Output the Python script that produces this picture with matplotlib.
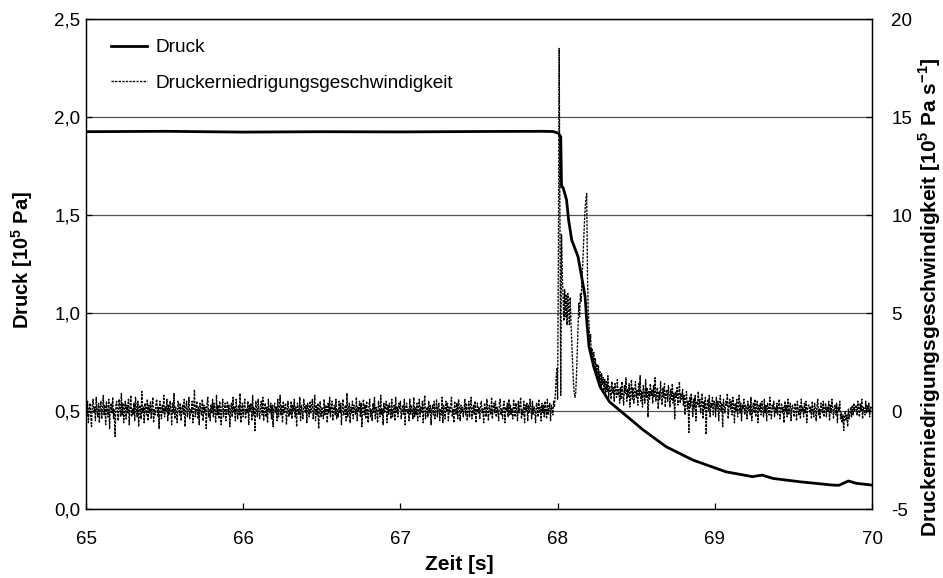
import matplotlib
matplotlib.use("Agg")
import matplotlib.pyplot as plt
import numpy as np
from matplotlib.ticker import FuncFormatter

plt.rcParams["font.family"] = ["Liberation Sans", "DejaVu Sans"]
plt.rcParams["mathtext.fontset"] = "custom"
plt.rcParams["mathtext.rm"] = "Liberation Sans:bold"
plt.rcParams["mathtext.bf"] = "Liberation Sans:bold"

# Druck [10^5 Pa] ueber der Zeit [s]
t_druck = [65.0, 65.5, 66.0, 66.5, 67.0, 67.5, 67.9, 67.97, 68.004, 68.02,
           68.025, 68.035, 68.057, 68.07, 68.09, 68.11, 68.13, 68.153, 68.175,
           68.185, 68.2, 68.23, 68.27, 68.33, 68.4, 68.43, 68.545, 68.69,
           68.86, 69.07, 69.24, 69.3, 69.37, 69.54, 69.75, 69.79, 69.85,
           69.9, 70.0]
druck = [1.925, 1.927, 1.923, 1.925, 1.924, 1.926, 1.927, 1.926, 1.918, 1.90,
         1.645, 1.64, 1.577, 1.474, 1.372, 1.33, 1.287, 1.185, 1.083,
         0.964, 0.828, 0.726, 0.624, 0.547, 0.50, 0.48, 0.403, 0.318,
         0.25, 0.19, 0.165, 0.173, 0.156, 0.139, 0.122, 0.121, 0.143,
         0.131, 0.122]

# Druckerniedrigungsgeschwindigkeit [10^5 Pa/s], Abtastung alle 5 ms ab 65 s
rate_vorher = [
    0.2, -0.3, 0.5, -0.6, 0.1, 0.4, -0.2, -0.8, 0.3, 0.6, -0.1, 0.2, -0.5, 0.7, 0.0, -0.3, 0.4, -0.6, 0.2, 0.5,
    -0.4, 0.1, 0.8, -0.2, 0.3, -0.7, 0.5, 0.0, -0.3, 0.6, -0.9, 0.2, 0.4, -0.1, 0.7, -0.4, 0.1, -1.3, 0.3, 0.5,
    0.0, -0.5, 0.6, 0.2, -0.3, 0.9, -0.2, 0.4, -0.6, 0.1, 0.5, -0.4, 0.3, -0.1, 0.6, -0.7, 0.2, 0.8, -0.3, 0.1,
    -0.2, 0.4, -0.5, 0.7, 0.1, -0.3, 0.5, -0.8, 0.2, 0.3, -0.4, 1.0, -0.1, 0.2, -0.6, 0.4, 0.0, -0.2, 0.6, -0.5,
    0.3, -0.1, 0.5, -0.4, 0.2, 0.7, -0.6, 0.1, -0.2, 0.4, 0.6, -0.3, 0.2, -0.9, 0.5, 0.1, -0.4, 0.3, -0.1, 0.8,
    -0.3, 0.2, 0.0, 0.6, -0.5, 0.3, -0.2, 0.5, 0.1, -0.7, 0.4, -0.1, 0.9, -0.4, 0.2, 0.0, -0.6, 0.5, 0.3, -0.2,
    0.4, -0.5, 0.1, 0.3, -0.2, 0.6, -0.8, 0.2, 0.5, -0.3, 0.0, 0.7, -0.4, 0.1, -0.1, 0.5, -0.6, 0.3, 1.1, -0.3,
    0.1, 0.5, -0.4, 0.2, -0.7, 0.4, 0.0, -0.2, 0.6, -0.5, 0.3, -0.1, 0.2, -0.9, 0.4, 0.7, -0.3, 0.1, -0.5, 0.3,
    -0.1, 0.6, -0.3, 0.4, 0.0, -0.6, 0.8, -0.2, 0.3, -0.4, 0.5, 0.1, -0.7, 0.2, 0.6, -0.3, 0.0, 0.4, -0.5, 0.2,
    0.5, -0.2, 0.3, -0.8, 0.1, 0.4, -0.3, 0.7, -0.1, 0.2, -0.5, 0.6, 0.0, -0.4, 0.3, -0.2, 0.9, -0.6, 0.1, 0.4,
    -0.3, 0.2, 0.6, -0.4, 0.1, -0.1, 0.5, -0.7, 0.3, 0.0, 0.4, -0.5, 0.8, -0.2, 0.2, -1.0, 0.5, 0.1, -0.3, 0.6,
    0.0, -0.4, 0.3, 0.5, -0.2, 0.7, -0.5, 0.1, 0.4, -0.3, 0.2, -0.6, 0.6, 0.0, -0.1, 0.4, -0.4, 0.3, -0.8, 0.2,
    0.4, -0.1, 0.2, -0.5, 0.6, -0.3, 0.1, 0.8, -0.2, 0.3, -0.6, 0.5, -0.1, 0.2, 0.4, -0.7, 0.0, 0.5, -0.3, 0.1,
    -0.2, 0.5, -0.4, 0.3, 0.0, 0.6, -0.3, 0.2, -0.8, 0.4, 0.1, -0.2, 0.7, -0.5, 0.3, 0.0, -0.4, 0.6, 0.2, -0.1,
    0.3, -0.6, 0.4, 0.1, -0.3, 0.5, -0.1, 0.2, 0.6, -0.4, 0.0, 0.8, -0.5, 0.3, -0.2, 0.4, -0.9, 0.1, 0.5, -0.3,
    0.2, 0.0, -0.4, 0.6, -0.2, 0.3, 0.1, -0.6, 0.4, -0.1, 0.7, -0.3, 0.2, 0.5, -0.5, 0.1, 0.3, -0.2, 0.6, -0.4,
    0.1, -0.3, 0.5, -0.1, 0.4, -0.7, 0.2, 0.6, -0.2, 0.0, 0.3, -0.5, 0.9, -0.3, 0.1, 0.4, -0.6, 0.2, -0.1, 0.5,
    -0.4, 0.3, 0.1, -0.2, 0.7, -0.5, 0.2, 0.0, 0.5, -0.3, 0.4, -0.8, 0.1, 0.6, -0.2, 0.3, -0.4, 0.5, 0.0, -0.6,
    0.3, 0.6, -0.3, 0.1, -0.5, 0.4, -0.1, 0.7, -0.4, 0.2, 0.0, -0.6, 0.5, 0.2, -0.3, 0.8, -0.2, 0.1, -0.7, 0.4,
    -0.1, 0.2, 0.5, -0.6, 0.3, -0.2, 0.4, 0.1, -0.4, 0.6, -0.3, 0.0, 0.3, -0.5, 0.7, -0.1, 0.2, -0.3, 0.4, 0.1,
    0.5, -0.4, 0.0, 0.3, -0.2, 0.6, -0.7, 0.2, 0.4, -0.1, 0.1, -0.5, 0.6, -0.2, 0.3, 0.0, -0.4, 0.7, -0.3, 0.2,
    -0.2, 0.4, -0.5, 0.1, 0.6, -0.3, 0.2, -0.1, 0.5, -0.6, 0.3, 0.8, -0.4, 0.0, 0.2, -0.3, 0.5, -0.1, 0.3, -0.7,
    0.1, 0.3, -0.2, 0.5, -0.4, 0.0, 0.6, -0.3, 0.2, 0.4, -0.5, 0.1, -0.2, 0.7, -0.6, 0.3, 0.1, -0.4, 0.5, 0.0,
    0.4, -0.5, 0.2, -0.1, 0.3, 0.7, -0.3, 0.1, -0.6, 0.5, 0.0, -0.2, 0.4, -0.4, 0.6, 0.2, -0.5, 0.3, -0.1, 0.2,
    -0.3, 0.1, 0.6, -0.2, 0.4, -0.5, 0.0, 0.5, -0.3, 0.2, 0.7, -0.4, 0.1, 0.3, -0.2, 0.5, -0.6, 0.0, 0.4, -0.1,
    0.2, -0.4, 0.3, 0.5, -0.1, 0.1, -0.6, 0.4, 0.2, -0.3, 0.6, 0.0, -0.5, 0.3, 0.1, -0.2, 0.7, -0.4, 0.2, 0.4,
    -0.1, 0.5, -0.3, 0.2, 0.0, -0.5, 0.4, 0.6, -0.2, 0.1, -0.4, 0.3, 0.5, -0.6, 0.2, 0.0, 0.4, -0.3, 0.6, -0.2,
    0.3, -0.2, 0.1, -0.4, 0.6, 0.2, -0.3, 0.4, 0.0, -0.5, 0.5, -0.1, 0.3, 0.7, -0.4, 0.1, -0.2, 0.5, -0.6, 0.3,
    0.0, 0.4, -0.5, 0.3, -0.1, 0.6, 0.1, -0.4, 0.5, -0.2, 0.2, 0.0, -0.6, 0.4, 0.3, -0.3, 0.6, -0.1, 0.2, -0.5,
    0.4, -0.1, 0.3, -0.3, 0.5, 0.0, -0.4, 0.6, -0.2, 0.2, 0.4, -0.5, 0.3, 0.1, -0.2, 0.5, 0.2, 0.8, 1.5, 2.2,
]
rate_ereignis = [
    0.6, 8.0, 18.5, 10.0, 0.8, 9.0, 7.0, 5.8, 4.6, 6.2, 4.8, 5.9, 4.4, 6.0, 5.2, 4.4, 5.8, 4.5, 3.6, 2.5,
    1.6, 1.0, 0.7, 0.9, 1.8, 3.0, 4.2, 5.5, 4.8, 6.0, 5.6, 6.8, 7.5, 8.5, 9.5, 10.3, 10.8, 11.1, 7.0, 5.0,
    4.4, 3.5, 3.9, 2.8, 3.2, 2.5, 3.0, 2.1, 2.7, 1.9, 2.4, 1.6, 2.3, 1.5, 2.0, 1.2, 1.9, 1.3, 1.7, 1.1,
    1.6, 0.9, 1.5, 1.0, 1.8, 0.7, 1.3, 1.1, 0.6, 1.5, 0.9, 1.2, 0.5, 1.4, 1.0, 0.7, 1.6, 0.8, 1.1, 0.4,
]
rate_nachher = [
    1.2, 0.6, 1.5, 0.8, 0.3, 1.3, 0.9, 1.7, 0.5, 1.1, 0.7, 1.4, 0.2, 1.0, 1.6, 0.6, 1.2, 0.4, 0.9, 1.5,
    0.7, 1.1, 0.3, 1.4, 0.8, 1.8, 0.5, 1.0, 0.2, 1.3, 0.9, 0.4, 1.6, 0.7, 1.2, -0.3, 1.0, 0.6, 1.4, 0.8,
    1.1, 0.4, 1.3, 0.7, 1.7, 0.5, 0.9, 1.2, 0.1, 1.0, 0.6, 1.5, 0.8, 0.3, 1.2, 0.7, 1.4, 0.2, 0.9, 1.1,
    0.5, 1.3, 0.8, 0.2, 1.1, 0.6, 1.4, 0.4, 0.9, -0.4, 1.0, 0.7, 1.2, 0.3, 0.8, 1.5, 0.4, 0.9, 0.6, 1.1,
    0.3, 0.8, -0.2, 0.6, 1.0, 0.1, 0.5, -1.1, 0.7, 0.2, 0.9, 0.4, -0.3, 0.6, 0.1, 0.8, -0.5, 0.5, 0.3, 1.0,
    0.2, 0.6, -0.1, 0.4, 0.9, -0.4, 0.5, 0.1, 0.7, -1.2, 0.3, 0.6, 0.0, 0.8, -0.3, 0.4, 0.2, 0.7, -0.2, 0.5,
    0.4, -0.3, 0.7, 0.1, 0.5, -0.5, 0.3, 0.8, 0.0, 0.4, -0.8, 0.6, 0.2, -0.1, 0.5, 0.3, 0.9, -0.4, 0.2, 0.6,
    0.1, 0.5, -0.2, 0.7, 0.3, -0.6, 0.4, 0.0, 0.6, -0.3, 0.2, 0.8, -0.1, 0.4, -0.5, 0.3, 0.1, 0.6, -0.2, 0.3,
    0.2, -0.4, 0.5, 0.0, 0.3, -0.2, 0.7, -0.5, 0.1, 0.4, -0.1, 0.6, -0.3, 0.2, 0.5, -0.6, 0.3, 0.0, 0.4, -0.2,
    0.5, 0.1, -0.3, 0.6, -0.1, 0.3, -0.5, 0.4, 0.2, -0.2, 0.7, 0.0, -0.4, 0.3, 0.1, 0.5, -0.3, 0.2, -0.1, 0.4,
    -0.2, 0.3, 0.6, -0.4, 0.1, 0.4, -0.1, 0.2, -0.6, 0.5, 0.0, 0.3, -0.3, 0.6, -0.2, 0.1, 0.4, -0.5, 0.2, 0.3,
    0.0, -0.3, 0.4, 0.2, -0.5, 0.5, 0.1, -0.2, 0.3, -0.4, 0.6, 0.0, 0.2, -0.3, 0.4, -0.1, 0.5, -0.6, 0.1, 0.3,
    0.3, -0.1, 0.2, -0.4, 0.5, 0.0, -0.3, 0.4, 0.1, -0.5, 0.3, 0.6, -0.2, 0.1, -0.4, 0.4, 0.2, -0.1, 0.5, -0.3,
    0.1, 0.4, -0.3, 0.2, 0.0, 0.5, -0.5, 0.3, -0.1, 0.6, 0.2, -0.4, 0.1, 0.3, -0.2, 0.4, -0.6, 0.2, 0.0, 0.5,
    -0.4, -0.1, -0.6, -0.2, -1.0, -0.3, 0.0, -0.5, -0.2, -0.8, 0.1, -0.4, -0.1, 0.2, -0.3, 0.3, -0.2, 0.4, 0.0, 0.2,
    0.3, -0.2, 0.5, 0.1, -0.3, 0.4, 0.0, 0.6, -0.4, 0.2, 0.1, -0.2, 0.5, -0.1, 0.3, 0.0, 0.4, -0.3, 0.2, 0.1,
    0.2,
]

rate = np.array(rate_vorher + rate_ereignis + rate_nachher)
t_rate = 65.0 + 0.005 * np.arange(len(rate))

fig = plt.figure(figsize=(9.43, 5.78), dpi=100)
ax = fig.add_axes([86 / 943, 69 / 578, 786 / 943, 490 / 578])
ax2 = ax.twinx()

ax.yaxis.grid(True, color="#555555", linewidth=0.9)
ax.set_axisbelow(True)

l1, = ax.plot(t_druck, druck, color="black", linewidth=2.0, label="Druck")
l2, = ax2.plot(t_rate, rate, color="black", linewidth=0.95,
               linestyle=(0, (1.8, 0.9)),
               label="Druckerniedrigungsgeschwindigkeit")

ax.set_xlim(65, 70)
ax.set_ylim(0, 2.5)
ax2.set_ylim(-5, 20)
ax.set_xticks(np.arange(65, 71, 1))
ax.set_yticks(np.arange(0, 2.51, 0.5))
ax2.set_yticks(np.arange(-5, 21, 5))
ax.yaxis.set_major_formatter(FuncFormatter(lambda v, p: f"{v:.1f}".replace(".", ",")))
ax2.yaxis.set_major_formatter(FuncFormatter(lambda v, p: f"{v:.0f}"))

for a in (ax, ax2):
    a.tick_params(direction="in", length=4, width=0.9, labelsize=13.5)
    for s in a.spines.values():
        s.set_linewidth(0.9)
ax.tick_params(axis="x", pad=16)
ax.tick_params(axis="y", pad=4)
ax2.tick_params(axis="y", pad=14)

ax.set_xlabel("Zeit [s]", fontsize=15, fontweight="bold")
ax.xaxis.set_label_coords((459 - 86) / 786, -(565 - 509) / 490)
ax.xaxis.label.set_va("center")
ax.set_ylabel(r"Druck [10$^5$ Pa]", fontsize=14.5, fontweight="bold")
ax.yaxis.set_label_coords(-(86 - 22) / 786, (509 - 260) / 490)
ax.yaxis.label.set_va("center")
ax2.set_ylabel(r"Druckerniedrigungsgeschwindigkeit [10$^5$ Pa s$^{-1}$]",
               fontsize=15, fontweight="bold")
ax2.yaxis.set_label_coords((930 - 86) / 786, (509 - 297) / 490)
ax2.yaxis.label.set_va("center")

ax2.legend([l1, l2], [l1.get_label(), l2.get_label()], loc="upper left",
           bbox_to_anchor=(111 / 943, 1 - 39 / 578), bbox_transform=fig.transFigure,
           frameon=False, fontsize=13.7, handlelength=1.9, handletextpad=0.45,
           labelspacing=0.95, borderpad=0, borderaxespad=0)

fig.savefig("out.png", dpi=100)
